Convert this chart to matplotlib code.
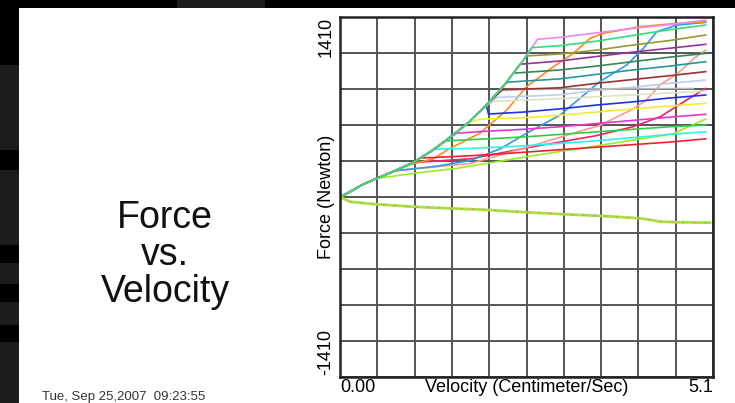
import matplotlib
matplotlib.use("Agg")
import matplotlib.pyplot as plt
from matplotlib.patches import Rectangle
import numpy as np

plt.rcParams["font.family"] = ["Liberation Sans", "DejaVu Sans"]

# shared rising path that every upper curve follows before it levels off
trunk_x = [0, 0.15, 0.3, 0.5, 0.75, 1.0, 1.25, 1.5, 1.75, 2.0, 2.25, 2.5, 2.7]
trunk_y = [0, 45, 95, 145, 205, 270, 360, 465, 580, 720, 880, 1065, 1235]

# each upper curve after it leaves the common path
branch_x = [
    [2.7, 3.0, 3.5, 4.0, 4.5, 5.0],
    [2.62, 3.0, 3.5, 4.0, 4.5, 5.0],
    [2.55, 3.0, 3.5, 4.0, 4.5, 5.0],
    [2.46, 3.0, 3.5, 4.0, 4.5, 5.0],
    [2.37, 3.0, 3.5, 4.0, 4.5, 5.0],
    [2.3, 3.0, 3.5, 4.0, 4.5, 5.0],
    [2.22, 3.0, 3.5, 4.0, 4.5, 5.0],
    [2.2, 3.0, 4.0, 4.83],
    [2.15, 3.0, 3.5, 4.0, 4.5, 5.0],
    [2.12, 3.0, 4.0, 5.0],
    [2.03, 2.5, 3.0, 3.5, 4.0, 4.5, 5.0],
    [1.92, 2.5, 3.0, 3.5, 4.0, 4.5, 5.0],
    [1.6, 2.0, 2.5, 3.0, 3.5, 4.0, 4.5, 5.0],
    [1.45, 2.0, 2.5, 3.0, 3.5, 4.0, 4.5, 5.0],
    [1.3, 1.78, 2.5, 3.0, 3.5, 4.0, 4.5, 5.0],
    [1.1, 1.5, 2.0, 2.5, 3.0, 3.5, 4.0, 4.5, 5.0],
    [0.5, 1.0, 1.6, 2.6, 3.5, 4.55, 4.8, 5.0],
    [0.9, 1.28, 1.5, 1.91, 2.28, 2.55, 2.92, 3.19, 3.42, 3.6, 4.1, 4.6, 5.0],
    [0.75, 1.3, 1.78, 2.2, 2.55, 3.01, 3.28, 3.55, 3.92, 4.15, 4.33, 4.61, 5.0],
    [0.75, 1.2, 1.78, 2.5, 3.19, 3.55, 4.01, 4.19, 4.38, 4.6, 4.85, 5.0],
    [1.0, 1.8, 2.64, 3.5, 4.01, 4.38, 4.74, 5.0],
]
branch_y = [
    [1235, 1250, 1285, 1320, 1350, 1386],
    [1170, 1185, 1220, 1265, 1310, 1347],
    [1105, 1120, 1150, 1190, 1225, 1269],
    [1040, 1065, 1100, 1135, 1165, 1196],
    [970, 995, 1025, 1060, 1095, 1125],
    [900, 925, 960, 995, 1025, 1060],
    [840, 855, 890, 920, 950, 982],
    [840, 845, 848, 850],
    [780, 800, 835, 860, 890, 916],
    [750, 770, 800, 830],
    [650, 665, 690, 720, 745, 775, 799],
    [610, 620, 640, 665, 690, 712, 734],
    [500, 515, 530, 550, 575, 600, 625, 648],
    [440, 455, 470, 490, 510, 530, 550, 564],
    [375, 380, 400, 420, 440, 465, 490, 510],
    [305, 315, 330, 350, 370, 390, 410, 430, 455],
    [145, 185, 225, 320, 400, 495, 560, 610],
    [245, 300, 380, 499, 681, 864, 1021, 1125, 1243, 1282, 1334, 1360, 1373],
    [205, 240, 285, 380, 499, 642, 773, 903, 1034, 1165, 1295, 1347, 1368],
    [205, 230, 262, 380, 499, 560, 690, 760, 880, 960, 1090, 1151],
    [270, 300, 394, 480, 551, 629, 760, 851],
]
line_colors = [
    "#ee88ee", "#33dd77", "#999933", "#993399", "#338855", "#229999",
    "#993333", "#b8b8b8", "#b8d0ee", "#d8e6c4", "#2233dd", "#eeee33",
    "#ee33cc", "#33cc44", "#33eeee", "#ee2233", "#99ee22", "#ff8822",
    "#3399ee", "#ff9988", "#ee2266",
]

# lower bundle (all runs overlap)
down_x = [0, 0.14, 0.45, 1.0, 1.5, 2.05, 2.55, 3.1, 3.6, 4.1, 4.2, 4.38, 4.6, 5.06]
down_y = [0, -37, -55, -76, -89, -102, -120, -136, -149, -167, -175, -193, -198, -201]

x_max = 5.1
y_max = 1410

fig = plt.figure(figsize=(7.35, 4.03), dpi=100, facecolor="black")

# slide background: white panel and the dark strips around it
fig.add_artist(Rectangle((19 / 735, 0), 1, 1 - 8 / 403, transform=fig.transFigure,
                         facecolor="white", edgecolor="none", zorder=-2))
for y0, y1 in [(65, 150), (170, 245), (263, 284), (302, 325), (342, 403)]:
    fig.add_artist(Rectangle((0, 1 - y1 / 403), 19 / 735, (y1 - y0) / 403,
                             transform=fig.transFigure, facecolor="#1e1c1a",
                             edgecolor="none", zorder=-2))
fig.add_artist(Rectangle((177 / 735, 1 - 8 / 403), 88 / 735, 8 / 403,
                         transform=fig.transFigure, facecolor="#1e1c1a",
                         edgecolor="none", zorder=-2))

ax = fig.add_axes([340 / 735, 1 - 377 / 403, 373 / 735, 360 / 403])
ax.set_facecolor("white")

# draw the top curves last so the shared path shows their colours
order = list(range(len(branch_x)))[::-1]
order.remove(1)
order.append(1)
for i in order:
    bx, by = branch_x[i], branch_y[i]
    xs = [x for x in trunk_x if x < bx[0]] + bx
    ys = [y for x, y in zip(trunk_x, trunk_y) if x < bx[0]] + by
    ax.plot(xs, ys, color=line_colors[i], lw=1.2)

ax.plot(down_x, down_y, color="#a8e040", lw=2.0)
ax.plot(down_x, down_y, color="#ee6699", lw=1.0, ls=(0, (1, 7)))

ax.set_xlim(0, x_max)
ax.set_ylim(-y_max, y_max)
ax.set_xticks(np.linspace(0, x_max, 11))
ax.set_yticks(np.linspace(-y_max, y_max, 11))
ax.tick_params(length=0, labelbottom=False, labelleft=False)
ax.set_axisbelow(True)
ax.grid(color="#555555", lw=1.4)
for s in ax.spines.values():
    s.set_color("#222222")
    s.set_linewidth(1.8)

# axis labels drawn like the original software
ax.text(-0.0375, 1.0, "1410", rotation=90, ha="center", va="top",
        fontsize=13, transform=ax.transAxes)
ax.text(-0.0375, 0.005, "-1410", rotation=90, ha="center", va="bottom",
        fontsize=13, transform=ax.transAxes)
ax.text(-0.0375, 0.5, "Force (Newton)", rotation=90, ha="center", va="center",
        fontsize=13, transform=ax.transAxes)
ax.text(0.0, -0.028, "0.00", ha="left", va="center", fontsize=13,
        transform=ax.transAxes)
ax.text(1.0, -0.028, "5.1", ha="right", va="center", fontsize=13,
        transform=ax.transAxes)
ax.text(0.5, -0.028, "Velocity (Centimeter/Sec)", ha="center", va="center",
        fontsize=13, transform=ax.transAxes)

fig.text(165 / 735, 1 - 255 / 403, "Force\nvs.\nVelocity", ha="center",
         va="center", fontsize=27, linespacing=1.04, color="#111111")
fig.text(42 / 735, 1 - 397 / 403, "Tue, Sep 25,2007  09:23:55", ha="left",
         va="center", fontsize=9.5, color="#333333")

fig.savefig("out.png", dpi=100, facecolor=fig.get_facecolor())
